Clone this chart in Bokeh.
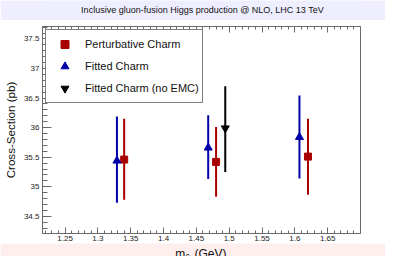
from bokeh.plotting import figure
from bokeh.layouts import column
from bokeh.models import (Range1d, LinearAxis, SingleIntervalTicker, CustomJSTickFormatter,
                          Legend, LegendItem, Label)
from bokeh.embed import file_html
from bokeh.resources import INLINE

# ---- data ----
pert_x = [1.34, 1.48, 1.62]
pert_y = [35.46, 35.42, 35.51]
pert_up = [36.15, 36.01, 36.15]
pert_lo = [34.78, 34.83, 34.865]

fit_x = [1.329, 1.468, 1.607]
fit_y = [35.44, 35.66, 35.84]
fit_up = [36.19, 36.21, 36.545]
fit_lo = [34.73, 35.13, 35.14]

noemc_x = [1.494]
noemc_y = [35.99]
noemc_up = [36.70]
noemc_lo = [35.25]

series_labels = ["Perturbative Charm", "Fitted Charm", "Fitted Charm (no EMC)"]
title_text = "Inclusive gluon-fusion Higgs production @ NLO, LHC 13 TeV"
y_title = "Cross-Section (pb)"
x_title_parts = ["m", "c", "(GeV)"]

RED = "#a80000"
BLUE = "#0000a8"
BLACK = "#000000"
AX = "#6a6a6a"
TXT = "#111111"
FONT = "Liberation Sans"

W = 385
H_TITLE, H_MAIN, H_XT = 20, 223, 13
BL, BR = 40, 25
FW = W - BL - BR


def strip(h, tint):
    f = figure(width=W, height=h, output_backend="svg", toolbar_location=None,
               x_axis_type=None, y_axis_type=None,
               min_border_left=BL, min_border_right=BR, min_border_top=0, min_border_bottom=0)
    f.outline_line_color = None
    f.xgrid.visible = False
    f.ygrid.visible = False
    f.background_fill_color = tint
    f.border_fill_color = tint
    return f


# title strip
pt = strip(H_TITLE, "#eeeeff")
pt.add_layout(Label(x=FW / 2, y=H_TITLE - 9, x_units="screen", y_units="screen", text=title_text,
                    text_font=FONT, text_font_size="9px", text_align="center",
                    text_baseline="middle", text_color=TXT))

# main plot
p = figure(width=W, height=H_MAIN, output_backend="svg", toolbar_location=None,
           x_range=Range1d(1.2156, 1.7), y_range=Range1d(34.21, 37.71),
           x_axis_type=None, y_axis_type=None,
           min_border_left=BL, min_border_right=BR, min_border_top=6, min_border_bottom=8)
p.outline_line_color = AX
p.background_fill_color = "white"
p.border_fill_color = "white"
p.xgrid.visible = False
p.ygrid.visible = False

fmt_x = CustomJSTickFormatter(code="return parseFloat(tick.toFixed(2)).toString()")
fmt_y = CustomJSTickFormatter(code="return parseFloat(tick.toFixed(1)).toString()")
fmt_none = CustomJSTickFormatter(code="return ''")


def style(ax, tin, tmin):
    ax.axis_line_color = AX
    ax.major_tick_line_color = AX
    ax.minor_tick_line_color = AX
    ax.major_tick_in = tin
    ax.major_tick_out = 0
    ax.minor_tick_in = tmin
    ax.minor_tick_out = 0
    ax.major_label_text_font = FONT
    ax.major_label_text_font_size = "8px"
    ax.major_label_text_color = "#222222"
    ax.major_label_standoff = 2


xb = LinearAxis(ticker=SingleIntervalTicker(interval=0.05, num_minor_ticks=5), formatter=fmt_x)
style(xb, 6, 3)
p.add_layout(xb, "below")
xt = LinearAxis(ticker=SingleIntervalTicker(interval=0.05, num_minor_ticks=5), formatter=fmt_none)
style(xt, 6, 3)
xt.major_label_standoff = 0
xt.major_label_text_font_size = "0px"
p.add_layout(xt, "above")
yl = LinearAxis(ticker=SingleIntervalTicker(interval=0.5, num_minor_ticks=5), formatter=fmt_y)
style(yl, 9, 5)
yl.major_label_standoff = 3
yl.axis_label = y_title
yl.axis_label_text_font = FONT
yl.axis_label_text_font_size = "11.6px"
yl.axis_label_text_font_style = "normal"
yl.axis_label_text_color = TXT
yl.axis_label_standoff = 4
p.add_layout(yl, "left")

# error bars
p.segment(x0=pert_x, y0=pert_lo, x1=pert_x, y1=pert_up, line_color=RED, line_width=2)
p.segment(x0=fit_x, y0=fit_lo, x1=fit_x, y1=fit_up, line_color=BLUE, line_width=2)
p.segment(x0=noemc_x, y0=noemc_lo, x1=noemc_x, y1=noemc_up, line_color=BLACK, line_width=2)

r_pert = p.scatter(pert_x, pert_y, marker="square", size=7, color=RED)
r_fit = p.scatter(fit_x, fit_y, marker="triangle", size=8, color=BLUE)
r_noemc = p.scatter(noemc_x, noemc_y, marker="inverted_triangle", size=8, color=BLACK)

legend = Legend(items=[LegendItem(label=series_labels[0], renderers=[r_pert]),
                       LegendItem(label=series_labels[1], renderers=[r_fit]),
                       LegendItem(label=series_labels[2], renderers=[r_noemc])],
                location="top_left", padding=3, spacing=0, margin=3,
                glyph_width=31, glyph_height=20, label_height=22, label_standoff=5,
                label_text_font=FONT, label_text_font_size="11px", label_text_color=TXT,
                border_line_color="black", border_line_width=1, background_fill_alpha=1.0)
p.add_layout(legend, "center")

# x-axis title strip (m with subscript c)
px = strip(H_XT, "#ffeeee")
mx = 172.7 - BL
px.add_layout(Label(x=mx, y=3, x_units="screen", y_units="screen", text=x_title_parts[0],
                    text_font=FONT, text_font_size="12px", text_align="left",
                    text_baseline="alphabetic", text_color=TXT))
px.add_layout(Label(x=mx + 10.3, y=0.5, x_units="screen", y_units="screen", text=x_title_parts[1],
                    text_font=FONT, text_font_size="8.5px", text_align="left",
                    text_baseline="alphabetic", text_color=TXT))
px.add_layout(Label(x=mx + 19.3, y=3, x_units="screen", y_units="screen", text=x_title_parts[2],
                    text_font=FONT, text_font_size="12px", text_align="left",
                    text_baseline="alphabetic", text_color=TXT))

layout = column(pt, p, px, spacing=0)
open("out.html", "w").write(file_html(layout, INLINE))
